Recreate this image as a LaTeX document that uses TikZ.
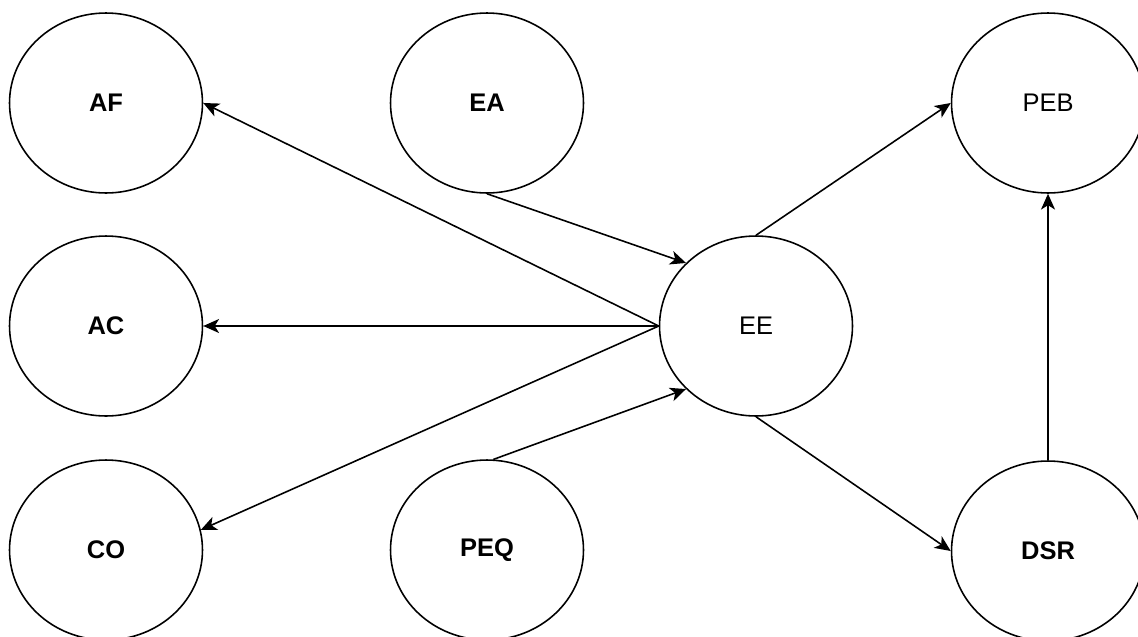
\documentclass[tikz,border=0pt]{standalone}
\usepackage{fontspec}
\setmainfont{Liberation Sans}
\usepackage{tikz}
\usetikzlibrary{arrows.meta, shapes.geometric}

\begin{document}
\begin{tikzpicture}[x=0.02cm, y=-0.02cm,
    construct/.style={draw, ellipse, line width=0.9pt, minimum width=3.86cm,
      minimum height=3.6cm, inner sep=0pt, font=\fontsize{14.5}{16}\selectfont\bfseries},
    plain/.style={font=\fontsize{14.5}{16}\selectfont},
    path/.style={-{Stealth[length=9pt, width=8pt, inset=2.5pt]}, line width=0.9pt}]
      \useasboundingbox (0, 0) rectangle (1138, 636);
      % constructs
      \node[construct] (AF) at (106, 103) {AF};
      \node[construct] (EA) at (487, 103) {EA};
      \node[construct] (PEB) at (1048, 103) {};
      \node[plain] at (PEB) {PEB};
      \node[construct] (AC) at (106, 326) {AC};
      \node[construct] (EE) at (756, 326) {};
      \node[plain] at (EE) {EE};
      \node[construct] (CO) at (106, 550) {CO};
      \node[construct] (PEQ) at (487, 550) {PEQ};
      \node[construct] (DSR) at (1048, 551) {DSR};
      % paths
      \draw[path] (EE.west) -- (AF.east);
      \draw[path] (EE.west) -- (AC.east);
      \draw[path] (EE.west) -- (CO.12);
      \draw[path] (EA.south) -- (EE.138);
      \draw[path] (PEQ.86) -- (EE.222);
      \draw[path] (EE.north) -- (PEB.west);
      \draw[path] (EE.south) -- (DSR.west);
      \draw[path] (DSR.north) -- (PEB.south);
    \end{tikzpicture}
\end{document}
